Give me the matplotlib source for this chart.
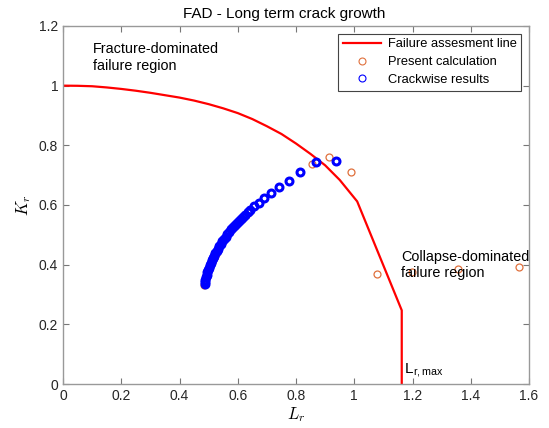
import matplotlib
matplotlib.use("Agg")
import matplotlib.pyplot as plt

plt.rcParams["font.family"] = ["Liberation Sans", "DejaVu Sans"]
plt.rcParams["mathtext.fontset"] = "cm"

fal_lr = [0.0, 0.05, 0.1, 0.15, 0.2, 0.25, 0.3, 0.35, 0.4, 0.45, 0.5, 0.55,
          0.6, 0.65, 0.7, 0.75, 0.8, 0.85, 0.9, 0.95, 1.01, 1.163, 1.163]
fal_kr = [1.0, 0.9995, 0.998, 0.994, 0.989, 0.983, 0.976, 0.968, 0.96, 0.95,
          0.938, 0.924, 0.908, 0.888, 0.864, 0.838, 0.806, 0.771, 0.733, 0.684,
          0.612, 0.247, 0.0]

# present calculation
calc_lr = [0.484, 0.487, 0.490, 0.494, 0.499, 0.504, 0.510, 0.517, 0.524, 0.532,
           0.540, 0.549, 0.558, 0.568, 0.579, 0.590, 0.602, 0.614, 0.627, 0.640,
           0.854, 0.914, 0.988, 1.079, 1.199, 1.355, 1.567]
calc_kr = [0.331, 0.345, 0.357, 0.369, 0.381, 0.395, 0.409, 0.423, 0.437, 0.451,
           0.465, 0.479, 0.492, 0.505, 0.518, 0.530, 0.542, 0.554, 0.566, 0.578,
           0.738, 0.760, 0.712, 0.368, 0.376, 0.384, 0.392]

# crackwise results
cw_lr = [0.486, 0.487, 0.489, 0.491, 0.493, 0.495, 0.498, 0.501, 0.504, 0.508,
         0.511, 0.515, 0.519, 0.523, 0.527, 0.532, 0.537, 0.542, 0.547, 0.553,
         0.558, 0.564, 0.570, 0.576, 0.583, 0.590, 0.597, 0.604, 0.611, 0.619,
         0.626, 0.634, 0.642, 0.657, 0.673, 0.691, 0.714, 0.742, 0.776, 0.814,
         0.869, 0.937]
cw_kr = [0.334, 0.342, 0.350, 0.358, 0.366, 0.374, 0.382, 0.390, 0.398, 0.406,
         0.414, 0.422, 0.430, 0.438, 0.446, 0.454, 0.462, 0.470, 0.478, 0.486,
         0.494, 0.502, 0.510, 0.518, 0.526, 0.533, 0.540, 0.547, 0.554, 0.561,
         0.568, 0.576, 0.584, 0.595, 0.607, 0.623, 0.640, 0.660, 0.682, 0.710,
         0.743, 0.746]

fig = plt.figure(figsize=(5.49, 4.28), dpi=100)
ax = fig.add_axes([0.1148, 0.1028, 0.8488, 0.8365])

ax.plot(fal_lr, fal_kr, color="red", lw=1.6, label="Failure assesment line")
ax.plot(calc_lr, calc_kr, "o", mfc="none", mec="#E0703C", mew=0.9, ms=5,
        label="Present calculation")
ax.plot(cw_lr, cw_kr, "o", mfc="none", mec="blue", mew=2.2, ms=5,
        label="Crackwise results")

ax.text(0.103, 1.145, "Fracture-dominated\nfailure region", fontsize=10.4,
        va="top", ha="left")
ax.text(1.16, 0.45, "Collapse-dominated\nfailure region", fontsize=10.4,
        va="top", ha="left")
ax.text(1.17, 0.012, r"L$_{\mathregular{r,max}}$", fontsize=11, va="bottom", ha="left")

ax.set_xlim(0, 1.6)
ax.set_ylim(0, 1.2)
ax.set_xticks([0, 0.2, 0.4, 0.6, 0.8, 1, 1.2, 1.4, 1.6])
ax.set_xticklabels(["0", "0.2", "0.4", "0.6", "0.8", "1", "1.2", "1.4", "1.6"])
ax.set_yticks([0, 0.2, 0.4, 0.6, 0.8, 1, 1.2])
ax.set_yticklabels(["0", "0.2", "0.4", "0.6", "0.8", "1", "1.2"])
ax.tick_params(direction="in", top=True, right=True, length=4, width=0.8,
               color="#777777", labelsize=10, labelcolor="#262626")
for s in ax.spines.values():
    s.set_color("#999999")
    s.set_linewidth(1.0)

ax.set_xlabel(r"$L_r$", fontsize=12, labelpad=2)
ax.set_ylabel(r"$K_r$", fontsize=12, labelpad=4)
ax.set_title("FAD - Long term crack growth", fontsize=11, pad=6, x=0.475)

leg = ax.legend(loc="upper right", fontsize=9.3, fancybox=False, framealpha=1,
                edgecolor="#444444", borderaxespad=0.6, handlelength=3.0,
                labelspacing=0.45, borderpad=0.35, handletextpad=0.5)
leg.get_frame().set_linewidth(0.8)
for h in leg.legend_handles[1:]:
    h.set_markeredgewidth(0.8)

fig.savefig("out.png", dpi=100)
